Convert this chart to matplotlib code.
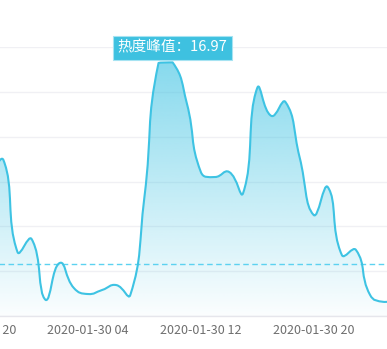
import numpy as np
import pandas as pd
import matplotlib
matplotlib.use('Agg')
import matplotlib.pyplot as plt
import matplotlib.dates as mdates
from matplotlib.path import Path
from matplotlib.patches import PathPatch

plt.rcParams['font.family'] = ['Noto Sans CJK SC', 'DejaVu Sans']

# hourly heat values, 2020-01-29 21:00 .. 2020-01-31 02:00
times = pd.date_range('2020-01-29 21:00', periods=30, freq='h')
heat = [9.0, 10.44, 4.28, 5.15, 1.07, 3.55, 1.87, 1.47, 1.74, 2.07,
        1.41, 7.96, 16.93, 16.97, 14.26, 9.64, 9.30, 9.64, 8.23, 15.26,
        13.39, 14.32, 10.64, 6.76, 8.63, 4.08, 4.42, 1.41, 0.94, 1.1]
avg_heat = 3.48
peak_label = '热度峰值：16.97'
tick_times = pd.date_range('2020-01-29 20:00', periods=4, freq='8h')

line_color = '#3ec3e3'

W, H = 387, 349
ext = 60  # axes run past the figure edges, like the cropped original
fig = plt.figure(figsize=(W / 100, H / 100), dpi=100)
ax = fig.add_axes([-ext / W, 33 / H, (W + 2 * ext) / W, 269 / H])

xn = mdates.date2num(times)
ymax = max(heat)

# gradient fill image (imshow resets limits, so do it first)
grad = np.zeros((256, 1, 4))
grad[:, 0, :3] = matplotlib.colors.to_rgb(line_color)
grad[:, 0, 3] = np.linspace(0.62, 0.02, 256)
im = ax.imshow(grad, extent=[xn[0], xn[-1], 0, ymax], origin='upper',
               aspect='auto', zorder=2, interpolation='bilinear')

px_per_h = 14.1
t0 = pd.Timestamp('2020-01-30 00:00')
x0 = t0 - pd.Timedelta(hours=2.24 + ext / px_per_h)
x1 = t0 + pd.Timedelta(hours=25.2 + ext / px_per_h)
xlim = (mdates.date2num(x0), mdates.date2num(x1))
ax.set_xlim(*xlim)
ax.set_ylim(0, 18)

# smooth curve like echarts (bezier with clamped control points), in pixel space
pts = ax.transData.transform(np.column_stack([xn, heat]))
lo, hi = pts.min(axis=0), pts.max(axis=0)
smooth = 0.5
cps = []
for i in range(len(pts)):
    p = pts[i]
    if i == 0 or i == len(pts) - 1:
        cps.append((p, p))
        continue
    v = (pts[i + 1] - pts[i - 1]) * smooth
    d0 = np.hypot(*(p - pts[i - 1]))
    d1 = np.hypot(*(p - pts[i + 1]))
    s = d0 + d1
    d0, d1 = d0 / s, d1 / s
    c0 = np.clip(p - v * d0, lo, hi)
    c1 = np.clip(p + v * d1, lo, hi)
    cps.append((c0, c1))

verts = [pts[0]]
codes = [Path.MOVETO]
for i in range(len(pts) - 1):
    verts += [cps[i][1], cps[i + 1][0], pts[i + 1]]
    codes += [Path.CURVE4] * 3
verts = ax.transData.inverted().transform(np.array(verts))

line_path = Path(verts, codes)
area_verts = np.vstack([verts, [[xn[-1], 0], [xn[0], 0], verts[0]]])
area_codes = codes + [Path.LINETO, Path.LINETO, Path.CLOSEPOLY]
area_path = Path(area_verts, area_codes)

clip = PathPatch(area_path, transform=ax.transData, fc='none', ec='none')
ax.add_patch(clip)
im.set_clip_path(clip)

ax.add_patch(PathPatch(line_path, transform=ax.transData, fc='none',
                       ec=line_color, lw=1.5, zorder=4, capstyle='round',
                       joinstyle='round'))

ax.axhline(avg_heat, color='#5cd2f0', lw=1.0, dashes=(4, 2.5), zorder=3)

ipk = int(np.argmax(heat))
ax.annotate(peak_label, xy=(xn[ipk], heat[ipk]), xytext=(0, 5.5),
            textcoords='offset points', ha='center', va='bottom',
            color='white', fontsize=10.5, zorder=6,
            bbox=dict(boxstyle='square,pad=0.33', fc='#3ec1e0',
                      ec='#a6e3f2', lw=0.8))

ax.set_yticks(np.arange(0, 19, 3))
ax.grid(axis='y', color='#f0f0f4', lw=1.0, zorder=0)
ax.set_xticks(mdates.date2num(tick_times))
ax.xaxis.set_major_formatter(mdates.DateFormatter('%Y-%m-%d %H'))
ax.tick_params(axis='x', length=0, pad=5.5, labelsize=9, labelcolor='#6e6e6e')
ax.tick_params(axis='y', length=0, labelleft=False)
for s in ['top', 'left', 'right']:
    ax.spines[s].set_visible(False)
ax.spines['bottom'].set_color('#e6e6ec')
ax.spines['bottom'].set_linewidth(1.0)
ax.set_facecolor('white')
ax.set_axisbelow(True)
ax.set_xlim(*xlim)
ax.set_ylim(0, 18)

fig.savefig('out.png', dpi=100)
